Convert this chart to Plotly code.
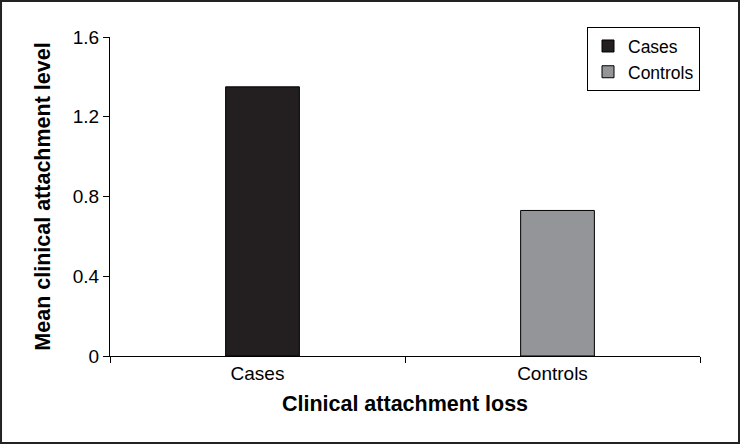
import plotly.graph_objects as go

categories = ["Cases", "Controls"]
series_names = ["Cases", "Controls"]
series_values = [1.35, 0.73]
series_colors = ["#231f20", "#939598"]
y_ticks = [0, 0.4, 0.8, 1.2, 1.6]
y_tick_labels = ["0", "0.4", "0.8", "1.2", "1.6"]

FONT = "Liberation Sans, Arial, sans-serif"

fig = go.Figure()
for name, cat, val, col in zip(series_names, categories, series_values, series_colors):
    fig.add_trace(go.Bar(
        name=name, x=[cat], y=[val],
        marker=dict(color=col, line=dict(color="black", width=1)),
        width=0.25, offset=-0.108,
    ))

fig.update_layout(
    width=743, height=444,
    margin=dict(l=110, r=43, t=37, b=88),
    paper_bgcolor="white", plot_bgcolor="white",
    barmode="overlay",
    font=dict(family=FONT, color="black", size=19),
    showlegend=True,
    legend=dict(
        x=1.0, xanchor="right", y=1.031, yanchor="top",
        bordercolor="black", borderwidth=1,
        font=dict(size=17.5, family=FONT),
        bgcolor="white",
    ),
    xaxis=dict(
        type="category", range=[-0.5, 1.5],
        showline=True, linecolor="black", linewidth=1,
        ticks="outside", tickson="boundaries", ticklen=6, tickcolor="black",
        showgrid=False, zeroline=False,
        tickfont=dict(size=19),
        title=dict(text="<b>Clinical attachment loss</b>", font=dict(size=21.5), standoff=13),
    ),
    yaxis=dict(
        range=[0, 1.6], tickvals=y_ticks, ticktext=y_tick_labels,
        showline=True, linecolor="black", linewidth=1,
        ticks="outside", ticklen=6, tickcolor="black",
        showgrid=False, zeroline=False,
        tickfont=dict(size=19),
        title=dict(text="<b>Mean clinical attachment level</b>", font=dict(size=21.5), standoff=16),
    ),
    shapes=[dict(
        type="rect", xref="paper", yref="paper",
        x0=-0.1847, x1=1.0661, y0=-0.2727, y1=1.1129,
        line=dict(color="#222222", width=2), fillcolor="rgba(0,0,0,0)", layer="below",
    )],
)

fig.write_html("out.html", config={"displayModeBar": False},
               post_script="document.body.style.margin='0';document.body.style.overflow='hidden';")
